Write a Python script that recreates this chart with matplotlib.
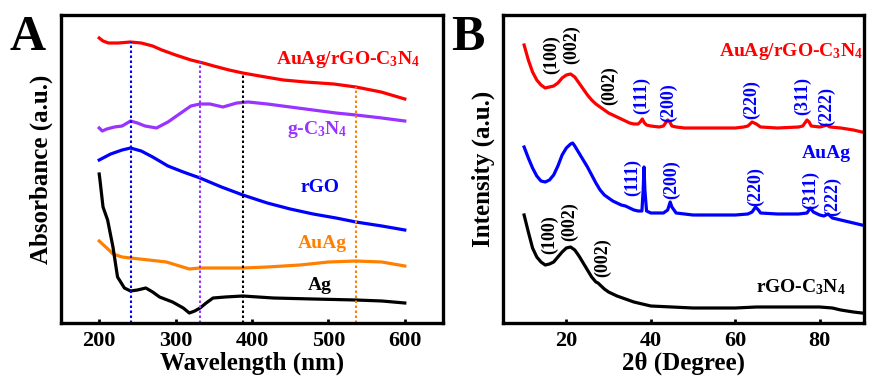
import numpy as np
import matplotlib
matplotlib.use("Agg")
import matplotlib.pyplot as plt

plt.rcParams['font.family'] = ['Liberation Serif', 'DejaVu Serif']
plt.rcParams['font.weight'] = 'bold'
plt.rcParams['mathtext.fontset'] = 'custom'
plt.rcParams['mathtext.rm'] = 'Liberation Serif:bold'
plt.rcParams['mathtext.it'] = 'Liberation Serif:bold'
plt.rcParams['mathtext.bf'] = 'Liberation Serif:bold'

# ---------------- Panel A: UV-vis ----------------
wl_red = [200, 205, 212, 225, 241, 255, 270, 282, 300, 320, 336, 350, 370, 388, 410, 441, 470, 507, 536, 569, 600]
abs_red = [285, 282, 280, 280, 281, 280, 277, 273, 268, 263, 260, 257, 253, 250, 247, 243, 241, 239, 236, 231, 224]

wl_pur = [200, 204, 210, 220, 230, 241, 250, 260, 275, 290, 305, 320, 332, 345, 362, 380, 395, 420, 450, 480, 510, 536, 570, 600]
abs_pur = [195, 192, 194, 196, 197, 202, 200, 197, 195, 201, 209, 217, 219, 219, 216, 220, 221, 219, 216, 213, 210, 208, 205, 202]

wl_blue = [200, 215, 230, 241, 255, 270, 290, 310, 332, 360, 388, 420, 450, 480, 510, 536, 570, 600]
abs_blue = [163, 169, 173, 175, 172, 166, 157, 151, 145, 136, 128, 120, 114, 109, 105, 101, 97, 93]

wl_or = [200, 210, 218, 230, 241, 265, 288, 305, 318, 332, 360, 388, 420, 463, 500, 536, 570, 600]
abs_or = [82, 75, 69, 66, 65, 63, 61, 57, 54, 55, 55, 55, 56, 58, 61, 62, 61, 57]

wl_ag = [200, 201, 205, 211, 218, 224, 233, 241, 250, 261, 270, 279, 296, 310, 318, 325, 332, 340, 349, 365, 388, 428, 480, 536, 570, 600]
abs_ag = [149, 143, 116, 103, 76, 46, 35, 32, 33, 35, 31, 26, 21, 15, 10, 12, 15, 20, 25, 26, 27, 25, 24, 23, 22, 20]

peak_wl = [241, 332, 388, 536]
peak_colors = ['#0000FF', '#9933FF', '#000000', '#FF8000']

# ---------------- Panel B: XRD ----------------
tt_red = [10, 11, 12, 13, 14, 15, 16, 17, 18, 19, 20, 21, 22, 23, 24, 25, 26, 27, 28, 29, 30, 31, 32, 33, 34, 35, 36, 37, 37.5, 38, 38.5, 39, 40, 42, 43, 44, 44.5, 45, 46, 48, 50, 55, 60, 62, 63, 64, 65, 66, 70, 75, 76, 77, 77.5, 78, 80, 81, 81.6, 82.5, 85, 88, 90]
int_red = [278, 263, 251, 243, 238, 235, 236, 237, 240, 245, 248, 249, 246, 240, 234, 228, 223, 219, 216, 213, 210, 208, 206, 204, 202, 200, 199, 199, 201, 204, 200, 198, 197, 196, 197, 203, 201, 197, 196, 195, 195, 195, 195, 196, 197, 201, 199, 196, 195, 196, 197, 203, 201, 197, 196, 197, 198, 196, 195, 193, 191]

tt_blue = [10, 11, 12, 13, 14, 15, 16, 17, 18, 19, 20, 21, 21.5, 22, 23, 24, 25, 26, 27, 28, 29, 30, 31, 32, 33, 34, 35, 36, 37, 37.9, 38.2, 38.4, 38.6, 39, 40, 42, 43, 44, 44.6, 45, 46, 48, 50, 55, 60, 63, 64, 64.8, 65.5, 66, 70, 75, 77, 77.8, 78.5, 80, 81, 82, 83, 85, 87, 90]
int_blue = [176, 165, 155, 147, 142, 141, 143, 148, 157, 168, 175, 179, 180, 177, 170, 163, 156, 148, 140, 133, 128, 125, 122, 120, 118, 117, 115, 113, 112, 112, 133, 156, 133, 112, 110, 110, 110, 113, 121, 116, 110, 109, 108, 108, 108, 109, 111, 116, 113, 110, 109, 109, 110, 115, 111, 108, 107, 109, 105, 103, 101, 98]

tt_blk = [10, 11, 12, 13, 14, 15, 16, 17, 18, 19, 20, 21, 22, 23, 24, 25, 26, 27, 27.5, 28, 29, 30, 31, 32, 34, 36, 38, 40, 45, 50, 55, 60, 65, 70, 75, 80, 83, 85, 88, 90]
int_blk = [108, 91, 75, 66, 61, 58, 59, 61, 66, 71, 75, 76, 73, 67, 60, 53, 46, 41, 40, 38, 34, 31, 29, 27, 24, 21, 19, 17, 16, 15, 15, 15, 16, 16, 16, 16, 15, 13, 11, 10]

# annotations (label, 2theta, intensity, color)
ann_labels = ['(100)', '(002)', '(002)', '(111)', '(200)', '(220)', '(311)', '(222)',
              '(111)', '(200)', '(220)', '(311)', '(222)',
              '(100)', '(002)', '(002)']
ann_tt = [16.4, 21.2, 30.2, 37.8, 44.2, 63.8, 75.9, 81.6,
          35.6, 44.9, 64.8, 77.8, 83.0,
          16.0, 20.7, 28.5]
ann_int = [268, 278, 237, 227, 220, 223, 227, 217,
           146, 143, 136, 133, 127,
           88, 101, 65]
ann_colors = ['#000000', '#000000', '#000000'] + ['#0000FF'] * 10 + ['#000000'] * 3

fig = plt.figure(figsize=(8.73, 3.81), dpi=100)
axA = fig.add_axes([61 / 873, 58 / 381, 382 / 873, 308 / 381])
axB = fig.add_axes([503 / 873, 58 / 381, 361 / 873, 308 / 381])

lw = 2.3
axA.plot(wl_red, abs_red, color='#FF0000', lw=lw)
axA.plot(wl_pur, abs_pur, color='#9933FF', lw=lw)
axA.plot(wl_blue, abs_blue, color='#0000FF', lw=lw)
axA.plot(wl_or, abs_or, color='#FF8000', lw=lw)
axA.plot(wl_ag, abs_ag, color='#000000', lw=lw)
for w, c in zip(peak_wl, peak_colors):
    top = np.interp(w, wl_red, abs_red)
    axA.vlines(w, 0, top, colors=c, linestyles=(0, (1.2, 1.2)), lw=1.5)

axA.set_xlim(150, 650)
axA.set_ylim(0, 308)
axA.set_xticks([200, 300, 400, 500, 600])
axA.set_yticks([])
axA.set_xlabel('Wavelength (nm)', fontsize=18, fontweight='bold', labelpad=0)
axA.set_ylabel('Absorbance (a.u.)', fontsize=18, fontweight='bold', labelpad=6)

tfs = 14
axA.text(525, 263, 'AuAg/rGO-C$_3$N$_4$', color='#FF0000', fontsize=tfs, fontweight='bold', ha='center', va='center')
axA.text(485, 193, 'g-C$_3$N$_4$', color='#9933FF', fontsize=tfs, fontweight='bold', ha='center', va='center')
axA.text(489, 135, 'rGO', color='#0000FF', fontsize=tfs, fontweight='bold', ha='center', va='center')
axA.text(492, 80, 'AuAg', color='#FF8000', fontsize=tfs, fontweight='bold', ha='center', va='center')
axA.text(489, 38, 'Ag', color='#000000', fontsize=tfs, fontweight='bold', ha='center', va='center')

lwx = 2.3
axB.plot(tt_red, int_red, color='#FF0000', lw=lwx)
axB.plot(tt_blue, int_blue, color='#0000FF', lw=lwx)
axB.plot(tt_blk, int_blk, color='#000000', lw=lwx)
for lab, x, y, c in zip(ann_labels, ann_tt, ann_int, ann_colors):
    axB.text(x, y, lab, color=c, fontsize=13, fontweight='bold', rotation=90, ha='center', va='center')

axB.set_xlim(5, 90.5)
axB.set_ylim(0, 308)
axB.set_xticks([20, 40, 60, 80])
axB.set_yticks([])
axB.set_xlabel('2θ (Degree)', fontsize=18, fontweight='bold', labelpad=0)
axB.set_ylabel('Intensity (a.u.)', fontsize=18, fontweight='bold', labelpad=6)
axB.text(73.3, 271, 'AuAg/rGO-C$_3$N$_4$', color='#FF0000', fontsize=tfs, fontweight='bold', ha='center', va='center')
axB.text(81.6, 170, 'AuAg', color='#0000FF', fontsize=tfs, fontweight='bold', ha='center', va='center')
axB.text(75.5, 36, 'rGO-C$_3$N$_4$', color='#000000', fontsize=tfs, fontweight='bold', ha='center', va='center')

for ax in (axA, axB):
    for s in ax.spines.values():
        s.set_linewidth(2.4)
    ax.tick_params(axis='x', direction='in', length=3, width=2, labelsize=16, pad=6)
    for t in ax.get_xticklabels():
        t.set_fontweight('bold')

fig.text(28 / 873, 1 - 38 / 381, 'A', fontsize=36, fontweight='bold', ha='center', va='center')
fig.text(468 / 873, 1 - 38 / 381, 'B', fontsize=36, fontweight='bold', ha='center', va='center')

fig.savefig('out.png', dpi=100)
